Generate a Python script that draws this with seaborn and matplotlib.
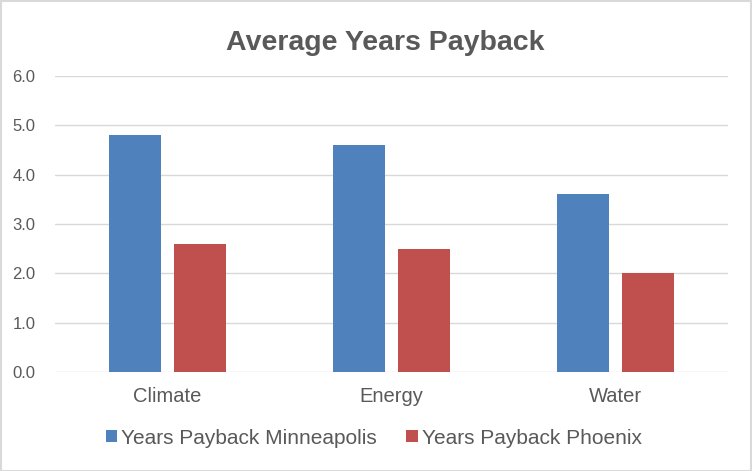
import matplotlib
matplotlib.use("Agg")
import matplotlib.pyplot as plt
import pandas as pd
import seaborn as sns

# data
categories = ["Climate", "Energy", "Water"]
minneapolis = [4.8, 4.6, 3.6]
phoenix = [2.6, 2.5, 2.0]
series_names = ["Years Payback Minneapolis", "Years Payback Phoenix"]
y_ticks = [0.0, 1.0, 2.0, 3.0, 4.0, 5.0, 6.0]

df = pd.DataFrame({
    "category": categories * 2,
    "value": minneapolis + phoenix,
    "series": [series_names[0]] * 3 + [series_names[1]] * 3,
})

sns.set_style("white")
plt.rcParams["font.family"] = ["Liberation Sans", "DejaVu Sans"]

text_grey = "#595959"
grid_grey = "#D9D9D9"

fig = plt.figure(figsize=(7.52, 4.71), dpi=100)
ax = fig.add_axes([0.073, 0.210, 0.895, 0.629])

sns.barplot(data=df, x="category", y="value", hue="series",
            palette=["#4F81BD", "#C0504D"], width=0.58, gap=0.2,
            saturation=1, linewidth=0, ax=ax)

ax.set_ylim(0, 6)
ax.set_yticks(y_ticks)
ax.set_yticklabels([f"{t:.1f}" for t in y_ticks])
ax.set_xlim(-0.5, 2.5)
ax.yaxis.grid(True, color=grid_grey, linewidth=1)
ax.set_axisbelow(True)
for s in ax.spines.values():
    s.set_visible(False)
ax.set_xlabel("")
ax.set_ylabel("")
ax.tick_params(axis="y", length=0, pad=14, labelsize=12, labelcolor=text_grey)
ax.tick_params(axis="x", length=0, pad=11, labelsize=14.5, labelcolor=text_grey)

fig.suptitle("Average Years Payback", x=0.512, y=0.909, fontsize=20.5,
             fontweight="bold", color=text_grey, va="center")

ax.get_legend().remove()
handles, labels = ax.get_legend_handles_labels()
fig.legend(handles, labels, loc="center", bbox_to_anchor=(0.497, 0.07),
           ncol=2, frameon=False, fontsize=15, labelcolor=text_grey,
           handlelength=0.55, handleheight=0.55, handletextpad=0.2,
           columnspacing=1.4)

# light grey chart border
fig.patches.append(plt.Rectangle((0.001, 0.001), 0.998, 0.997,
                                 transform=fig.transFigure, fill=False,
                                 edgecolor="#D9D9D9", linewidth=1.5))

fig.savefig("out.png", dpi=100)
